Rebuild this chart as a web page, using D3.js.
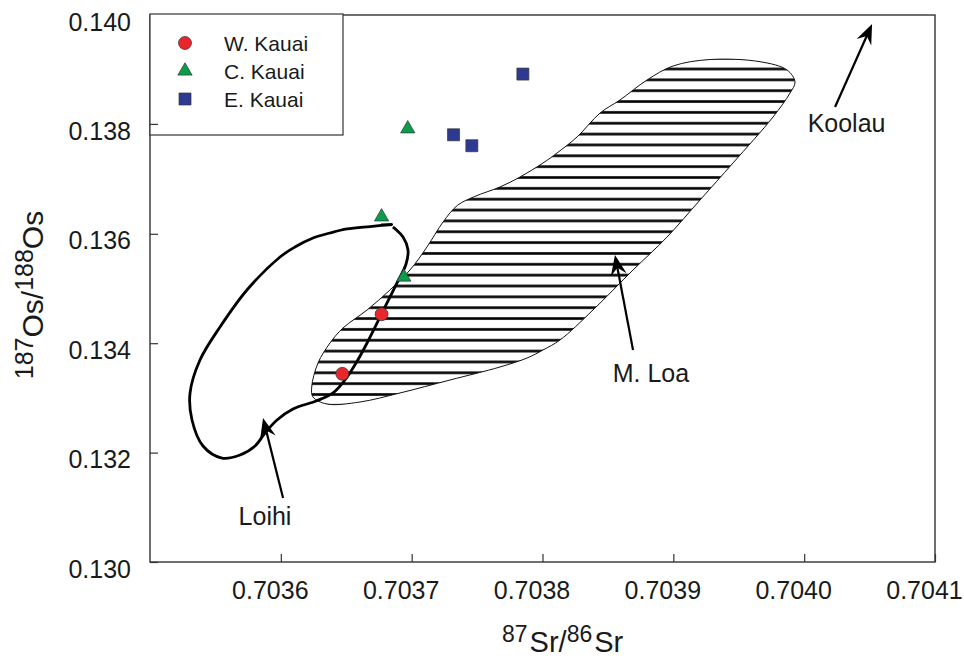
<!DOCTYPE html>
<html lang="en">
<head>
  <meta charset="UTF-8">
  <title>Os-Sr Kauai</title>
  <script src="https://d3js.org/d3.v7.min.js"></script>
  <style>
    body { margin: 0; background: #fff; }
    text { font-family: "Liberation Sans", Arial, sans-serif; fill: #1a1a1a; }
  </style>
</head>
<body>
  <svg id="chart" width="964" height="659"></svg>
  <script>
    // axis ticks
    const xTicks = [0.7036, 0.7037, 0.7038, 0.7039, 0.7040, 0.7041];
    const yTicks = [0.130, 0.132, 0.134, 0.136, 0.138, 0.140];

    // samples [87Sr/86Sr, 187Os/188Os]
    const wKauai = [[0.703677, 0.13453], [0.703647, 0.13344]];
    const cKauai = [[0.703697, 0.13792], [0.703677, 0.13631], [0.703694, 0.13521]];
    const eKauai = [[0.703785, 0.13892], [0.703732, 0.13781], [0.703746, 0.13761]];

    // Mauna Loa field outline
    const mLoaField = [
      [0.7038998, 0.139068], [0.7039280, 0.139186], [0.7039663, 0.139146], [0.7039869, 0.138995],
      [0.7039930, 0.138775], [0.7039892, 0.138574], [0.7039762, 0.138135], [0.7039456, 0.137294],
      [0.7039204, 0.136618], [0.7038952, 0.135941], [0.7038692, 0.135338], [0.7038386, 0.134607],
      [0.7038134, 0.134059], [0.7038004, 0.133876], [0.7037882, 0.133729], [0.7037675, 0.133565],
      [0.7037293, 0.133327], [0.7036911, 0.133090], [0.7036605, 0.132925], [0.7036353, 0.132888],
      [0.7036246, 0.133016], [0.7036236, 0.133199], [0.7036284, 0.133638], [0.7036376, 0.134004],
      [0.7036475, 0.134278], [0.7036659, 0.134607], [0.7036834, 0.134973], [0.7036987, 0.135338],
      [0.7037117, 0.135759], [0.7037240, 0.136216], [0.7037350, 0.136520], [0.7037480, 0.136680],
      [0.7037675, 0.136856], [0.7037828, 0.137038], [0.7038004, 0.137294], [0.7038111, 0.137477],
      [0.7038264, 0.137770], [0.7038440, 0.138208], [0.7038592, 0.138446], [0.7038799, 0.138812]
    ];

    // Loihi trend
    const loihiCurve = [
      [0.7036850, 0.136170], [0.7036682, 0.136133], [0.7036506, 0.136088], [0.7036376, 0.136015],
      [0.7036246, 0.135923], [0.7036108, 0.135759], [0.7035994, 0.135576], [0.7035741, 0.134973],
      [0.7035535, 0.134296], [0.7035382, 0.133693], [0.7035306, 0.133090], [0.7035321, 0.132596],
      [0.7035405, 0.132121], [0.7035550, 0.131901], [0.7035688, 0.131956], [0.7035803, 0.132121],
      [0.7035879, 0.132358], [0.7035971, 0.132596], [0.7036093, 0.132797], [0.7036269, 0.132943],
      [0.7036399, 0.133090], [0.7036490, 0.133327], [0.7036575, 0.133638], [0.7036659, 0.134004],
      [0.7036781, 0.134589], [0.7036888, 0.135101], [0.7036957, 0.135448], [0.7036972, 0.135704],
      [0.7036934, 0.135941], [0.7036857, 0.136124]
    ];

    // labelled arrows: tail, tip, text anchor
    const arrowNames = ["Loihi", "M. Loa", "Koolau"];
    const arrowTails = [[0.7036017, 0.131170], [0.7038692, 0.133876], [0.7040236, 0.138318]];
    const arrowTips = [[0.7035864, 0.132633], [0.7038554, 0.135612], [0.7040519, 0.139835]];
    const labelSpots = [[0.7035879, 0.130676], [0.7038829, 0.133291], [0.7040324, 0.137861]];

    const seriesNames = ["W. Kauai", "C. Kauai", "E. Kauai"];
    const seriesColors = ["#e8262c", "#0a9c4a", "#2e3a92"];
    const seriesShapes = [d3.symbolCircle, d3.symbolTriangle, d3.symbolSquare];
    const seriesSizes = [133, 88, 144];
    const seriesData = [wKauai, cKauai, eKauai];

    const svg = d3.select("#chart");
    const plotL = 150, plotR = 935, plotT = 15, plotB = 562;

    const x = d3.scaleLinear().domain([0.7035, 0.7041]).range([plotL, plotR]);
    const y = d3.scaleLinear().domain([0.130, 0.140]).range([plotB, plotT]);

    // hatch pattern for the M. Loa field
    const step = 10.85;
    const pat = svg.append("defs").append("pattern")
      .attr("id", "hatch")
      .attr("patternUnits", "userSpaceOnUse")
      .attr("x", 0).attr("y", 69 - step / 2)
      .attr("width", 20).attr("height", step);
    pat.append("rect").attr("x", 0).attr("y", step / 2 - 1.3)
      .attr("width", 20).attr("height", 2.6).attr("fill", "#000");

    svg.append("path")
      .datum(mLoaField)
      .attr("d", d3.line().x(d => x(d[0])).y(d => y(d[1])).curve(d3.curveCatmullRomClosed.alpha(0.5)))
      .attr("fill", "url(#hatch)")
      .attr("stroke", "#111")
      .attr("stroke-width", 1);

    // Loihi curve
    svg.append("path")
      .datum(loihiCurve)
      .attr("d", d3.line().x(d => x(d[0])).y(d => y(d[1])).curve(d3.curveCatmullRom.alpha(0.5)))
      .attr("fill", "none")
      .attr("stroke", "#000")
      .attr("stroke-width", 2.8);
    // little cap at the top end
    svg.append("line")
      .attr("x1", x(loihiCurve[0][0]) - 11).attr("x2", x(loihiCurve[0][0]) + 1)
      .attr("y1", y(loihiCurve[0][1])).attr("y2", y(loihiCurve[0][1]))
      .attr("stroke", "#000").attr("stroke-width", 2);

    // arrows with notched heads
    arrowNames.forEach((name, i) => {
      const tx = x(arrowTails[i][0]), ty = y(arrowTails[i][1]);
      const hx = x(arrowTips[i][0]), hy = y(arrowTips[i][1]);
      const ang = Math.atan2(hy - ty, hx - tx);
      const len = Math.hypot(hx - tx, hy - ty);
      const g = svg.append("g")
        .attr("transform", `translate(${hx},${hy}) rotate(${ang * 180 / Math.PI})`);
      g.append("line")
        .attr("x1", -len).attr("y1", 0).attr("x2", -12).attr("y2", 0)
        .attr("stroke", "#000").attr("stroke-width", 2.2);
      g.append("path")
        .attr("d", "M0,0 L-20,-8 L-13,0 L-20,8 Z")
        .attr("fill", "#000");
      svg.append("text")
        .attr("x", x(labelSpots[i][0]))
        .attr("y", y(labelSpots[i][1]))
        .attr("text-anchor", "middle")
        .attr("font-size", 25)
        .text(name);
    });

    // sample points
    seriesData.forEach((pts, i) => {
      svg.selectAll(null)
        .data(pts)
        .enter()
        .append("path")
        .attr("d", d3.symbol().type(seriesShapes[i]).size(seriesSizes[i]))
        .attr("transform", d => `translate(${x(d[0])},${y(d[1])})`)
        .attr("fill", seriesColors[i])
        .attr("stroke", "#333")
        .attr("stroke-width", 0.7);
    });

    // axes, ticks pointing inward
    const xAxis = svg.append("g")
      .attr("transform", `translate(0,${plotB})`)
      .call(d3.axisBottom(x).tickValues(xTicks).tickSizeInner(-8).tickSizeOuter(0).tickFormat(d3.format(".4f")));
    xAxis.select(".domain").remove();
    xAxis.selectAll("line").attr("stroke", "#333").attr("stroke-width", 1.2);
    xAxis.selectAll("text")
      .attr("x", -11).attr("y", 37).attr("dy", null)
      .attr("font-size", 25).attr("fill", "#1a1a1a")
      .attr("font-family", "'Liberation Sans', Arial, sans-serif");

    const yAxis = svg.append("g")
      .attr("transform", `translate(${plotL},0)`)
      .call(d3.axisLeft(y).tickValues(yTicks).tickSizeInner(-8).tickSizeOuter(0).tickFormat(d3.format(".3f")));
    yAxis.select(".domain").remove();
    yAxis.selectAll("line").attr("stroke", "#333").attr("stroke-width", 1.2);
    yAxis.selectAll("text")
      .attr("x", -19).attr("y", 15).attr("dy", null)
      .attr("font-size", 25).attr("fill", "#1a1a1a")
      .attr("font-family", "'Liberation Sans', Arial, sans-serif");

    // frame
    svg.append("rect")
      .attr("x", plotL).attr("y", plotT)
      .attr("width", plotR - plotL).attr("height", plotB - plotT)
      .attr("fill", "none").attr("stroke", "#333").attr("stroke-width", 1.4);

    // legend
    const lg = svg.append("g");
    lg.append("rect")
      .attr("x", plotL).attr("y", plotT - 1)
      .attr("width", 193).attr("height", 121)
      .attr("fill", "#fff").attr("stroke", "#333").attr("stroke-width", 1.2);
    seriesNames.forEach((name, i) => {
      const ry = 43 + i * 28;
      lg.append("path")
        .attr("d", d3.symbol().type(seriesShapes[i]).size(seriesSizes[i]))
        .attr("transform", `translate(185,${ry})`)
        .attr("fill", seriesColors[i])
        .attr("stroke", "#333")
        .attr("stroke-width", 0.7);
      lg.append("text")
        .attr("x", 224).attr("y", ry + 7.5)
        .attr("font-size", 21)
        .text(name);
    });
    // tick at 0.138 stays visible over the legend
    lg.append("line")
      .attr("x1", plotL).attr("x2", plotL + 8)
      .attr("y1", y(0.138)).attr("y2", y(0.138))
      .attr("stroke", "#333").attr("stroke-width", 1.2);

    // axis titles
    const xt = svg.append("text").attr("x", 502).attr("y", 652);
    xt.append("tspan").attr("font-size", 23).attr("dy", -10).text("87");
    xt.append("tspan").attr("font-size", 29).attr("dy", 10).attr("dx", 2).text("Sr/");
    xt.append("tspan").attr("font-size", 23).attr("dy", -10).text("86");
    xt.append("tspan").attr("font-size", 29).attr("dy", 10).attr("dx", 2).text("Sr");

    const yt = svg.append("text")
      .attr("transform", "translate(43,295) rotate(-90)")
      .attr("text-anchor", "middle");
    yt.append("tspan").attr("font-size", 25).attr("dy", -10).text("187");
    yt.append("tspan").attr("font-size", 30).attr("dy", 10).text("Os/");
    yt.append("tspan").attr("font-size", 25).attr("dy", -10).text("188");
    yt.append("tspan").attr("font-size", 30).attr("dy", 10).text("Os");
  </script>
</body>
</html>
